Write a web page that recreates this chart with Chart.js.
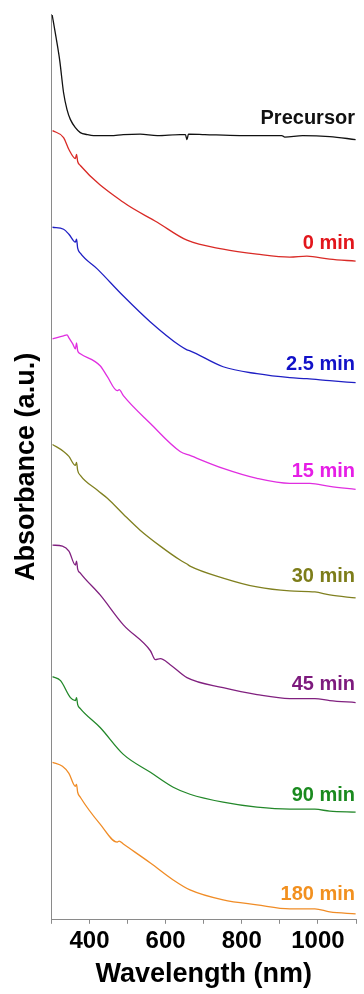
<!DOCTYPE html>
<html>
<head>
<meta charset="utf-8">
<script src="https://cdn.jsdelivr.net/npm/chart.js@4.4.1/dist/chart.umd.min.js"></script>
<style>
    html, body { margin: 0; padding: 0; background: #ffffff; }
    #wrap { width: 364px; height: 994px; }
</style>
</head>
<body>
<div id="wrap"><canvas id="uvChart" width="364" height="994"></canvas></div>
<script>

const seriesNames = ["Precursor", "0 min", "2.5 min", "15 min", "30 min", "45 min", "90 min", "180 min"];

const xTicks = [400, 600, 800, 1000];

const wlPrecursor = [302, 312, 322, 332, 341, 350, 363, 376, 394, 411, 455, 489, 533, 578, 638, 652, 656, 660, 703, 795, 905, 913, 960, 1031, 1099];
const absPrecursor = [9.08, 8.86, 8.62, 8.30, 8.13, 8.03, 7.95, 7.90, 7.88, 7.87, 7.87, 7.88, 7.885, 7.87, 7.88, 7.88, 7.83, 7.885, 7.88, 7.87, 7.87, 7.855, 7.87, 7.86, 7.83];

const wl0 = [303, 332, 346, 363, 366, 369, 376, 489, 578, 656, 751, 840, 926, 971, 1031, 1099];
const abs0 = [7.92, 7.85, 7.73, 7.64, 7.68, 7.61, 7.57, 7.20, 7.00, 6.82, 6.73, 6.68, 6.65, 6.66, 6.63, 6.61];

const wl25 = [303, 332, 346, 363, 366, 369, 376, 421, 489, 560, 638, 656, 664, 751, 840, 926, 971, 1031, 1099];
const abs25 = [6.95, 6.93, 6.88, 6.80, 6.83, 6.74, 6.69, 6.53, 6.26, 6.00, 5.76, 5.72, 5.71, 5.55, 5.48, 5.44, 5.43, 5.41, 5.39];

const wl15 = [303, 332, 341, 346, 356, 363, 366, 369, 376, 428, 447, 473, 478, 489, 560, 638, 664, 751, 840, 926, 979, 1031, 1099];
const abs15 = [5.83, 5.86, 5.87, 5.84, 5.78, 5.73, 5.79, 5.71, 5.68, 5.56, 5.45, 5.31, 5.32, 5.26, 4.98, 4.70, 4.66, 4.53, 4.43, 4.38, 4.38, 4.35, 4.32];

const wl30 = [303, 332, 346, 363, 366, 369, 376, 421, 447, 489, 533, 586, 638, 656, 664, 751, 840, 926, 992, 1031, 1099];
const abs30 = [4.77, 4.70, 4.65, 4.56, 4.59, 4.51, 4.46, 4.31, 4.23, 4.07, 3.91, 3.75, 3.61, 3.57, 3.55, 3.43, 3.34, 3.30, 3.29, 3.26, 3.23];

const wl45 = [303, 329, 346, 363, 366, 369, 376, 428, 489, 560, 573, 586, 612, 656, 751, 840, 926, 992, 1031, 1099];
const abs45 = [3.76, 3.75, 3.70, 3.56, 3.60, 3.52, 3.48, 3.26, 2.96, 2.70, 2.61, 2.62, 2.56, 2.43, 2.33, 2.26, 2.22, 2.22, 2.20, 2.18];

const wl90 = [303, 324, 350, 363, 366, 369, 376, 428, 489, 560, 620, 664, 751, 840, 926, 992, 1031, 1099];
const abs90 = [2.44, 2.40, 2.23, 2.20, 2.23, 2.16, 2.12, 1.93, 1.66, 1.48, 1.33, 1.26, 1.18, 1.13, 1.11, 1.11, 1.09, 1.08];

const wl180 = [303, 329, 346, 363, 366, 369, 376, 428, 473, 478, 489, 560, 620, 664, 751, 840, 926, 992, 1031, 1099];
const abs180 = [1.58, 1.54, 1.47, 1.34, 1.36, 1.28, 1.23, 0.96, 0.78, 0.79, 0.76, 0.57, 0.40, 0.30, 0.20, 0.15, 0.11, 0.11, 0.08, 0.06];


const allWl = [wlPrecursor, wl0, wl25, wl15, wl30, wl45, wl90, wl180];
const allAbs = [absPrecursor, abs0, abs25, abs15, abs30, abs45, abs90, abs180];

// styling per trace, kept apart from the data
const lineColors = ["#111111", "#d92a26", "#1f1fc4", "#e02ee0", "#808020", "#80207f", "#23882a", "#f08c26"];
const labelColors = ["#111111", "#e2161c", "#1212c8", "#e61ee6", "#7d7d1a", "#7d1a7d", "#1a8a1f", "#f2901f"];
const labelAt = [8.04, 6.79, 5.57, 4.50, 3.45, 2.36, 1.25, 0.25];

const FONT = "'Liberation Sans', Arial, sans-serif";


function buildDatasets() {

    return seriesNames.map((name, i) => ({
        label: name,
        data: allWl[i].map((w, k) => ({ x: w, y: allAbs[i][k] })),
        borderColor: lineColors[i],
        borderWidth: 1.3,
        pointRadius: 0,
        cubicInterpolationMode: "monotone",
        fill: false
    }));

}


const traceLabels = {
    id: "traceLabels",
    afterDatasetsDraw(chart) {
        const ctx = chart.ctx;
        const x = chart.chartArea.right - 1;
        ctx.save();
        ctx.font = "bold 20px " + FONT;
        ctx.textAlign = "right";
        ctx.textBaseline = "middle";
        seriesNames.forEach((name, i) => {
            ctx.fillStyle = labelColors[i];
            ctx.fillText(name, x, chart.scales.y.getPixelForValue(labelAt[i]));
        });
        ctx.restore();
    }
};


function createChart() {

    new Chart(document.getElementById("uvChart"), {

        type: "line",

        data: { datasets: buildDatasets() },

        options: {
            responsive: false,
            animation: false,
            layout: { padding: { left: 7, right: 8, top: 14, bottom: 1 } },
            plugins: {
                legend: { display: false },
                tooltip: { enabled: false }
            },
            scales: {
                x: {
                    type: "linear",
                    min: 300,
                    max: 1100,
                    grid: { drawOnChartArea: false, drawTicks: true, tickLength: 4, color: "#8a8a8a" },
                    border: { display: true, color: "#8a8a8a", width: 1 },
                    ticks: {
                        stepSize: 100,
                        autoSkip: false,
                        maxRotation: 0,
                        padding: 3,
                        color: "#000000",
                        font: { family: FONT, size: 24, weight: "bold" },
                        callback: v => xTicks.includes(v) ? String(v) : ""
                    },
                    title: {
                        display: true,
                        text: "Wavelength (nm)",
                        color: "#000000",
                        font: { family: FONT, size: 27, weight: "bold" },
                        padding: { top: 0, bottom: 2 }
                    }
                },
                y: {
                    min: 0,
                    max: 9.09,
                    grid: { display: false },
                    border: { display: true, color: "#8a8a8a", width: 1 },
                    ticks: { display: false },
                    title: {
                        display: true,
                        text: "Absorbance (a.u.)",
                        color: "#000000",
                        font: { family: FONT, size: 27, weight: "bold" },
                        padding: { top: 3, bottom: 1 }
                    }
                }
            }
        },

        plugins: [traceLabels]

    });

}


createChart();
</script>
</body>
</html>
